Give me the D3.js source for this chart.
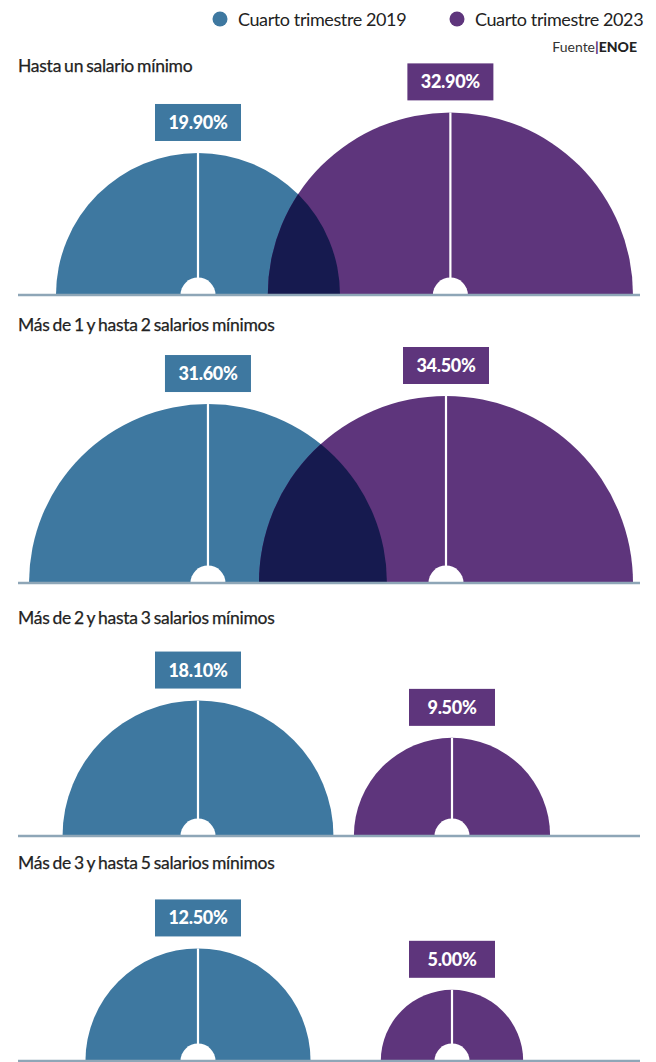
<!DOCTYPE html>
<html>
<head>
<meta charset="utf-8">
<script src="https://cdn.jsdelivr.net/npm/d3@7"></script>
<style>
  body { margin: 0; background: #fff; }
  svg { display: block; font-family: Lato, "Open Sans", sans-serif; }
</style>
</head>
<body>
<div id="chart"></div>
<script>
/***** Data *****/
var categories = [
  "Hasta un salario mínimo",
  "Más de 1 y hasta 2 salarios mínimos",
  "Más de 2 y hasta 3 salarios mínimos",
  "Más de 3 y hasta 5 salarios mínimos"
];
var values2019 = [19.90, 31.60, 18.10, 12.50];
var values2023 = [32.90, 34.50, 9.50, 5.00];
var seriesNames = ["Cuarto trimestre 2019", "Cuarto trimestre 2023"];
var source = "ENOE";

/***** Layout *****/
var width = 656, height = 1062;
var colors = ["#3e78a0", "#5e357c"];
var overlapColor = "#161a4f";
var baselines = [295, 583, 836, 1061];
var titleYs = [72, 331, 624, 869];
var centerX = d3.scalePoint().domain([0, 1]).range([198, 452]);
var minX = 29, maxX = 633;

var r = d3.scaleSqrt().domain([0, 34.5]).range([0, 187]);

var svg = d3.select("#chart").append("svg")
  .attr("width", width)
  .attr("height", height);

var defs = svg.append("defs");

// legend
var legend = svg.append("g");
seriesNames.forEach(function(name, i) {
  var lx = i === 0 ? 220 : 457;
  legend.append("circle")
    .attr("cx", lx).attr("cy", 19).attr("r", 7.5)
    .attr("fill", colors[i]);
  legend.append("text")
    .attr("x", lx + 18).attr("y", 26)
    .attr("font-size", 18)
    .attr("letter-spacing", -0.4)
    .attr("fill", "#222")
    .text(name);
});

var fuente = svg.append("text")
  .attr("x", 637).attr("y", 52)
  .attr("text-anchor", "end")
  .attr("font-size", 14)
  .attr("fill", "#333");
fuente.append("tspan").text("Fuente");
fuente.append("tspan").attr("fill", colors[1]).attr("font-weight", 900).text("|");
fuente.append("tspan").attr("font-weight", 900).attr("fill", "#222").text(source);

var arc = d3.arc()
  .innerRadius(0)
  .startAngle(-Math.PI / 2)
  .endAngle(Math.PI / 2);

categories.forEach(function(cat, p) {
  var by = baselines[p];
  var g = svg.append("g").attr("class", "panel");

  g.append("text")
    .attr("x", 18).attr("y", titleYs[p])
    .attr("font-size", 17.5)
    .attr("letter-spacing", -0.25)
    .attr("word-spacing", -1.2)
    .attr("fill", "#222")
    .attr("stroke", "#222").attr("stroke-width", 0.25)
    .text(cat);

  var vals = [values2019[p], values2023[p]];
  var items = vals.map(function(v, i) {
    var rad = r(v);
    var cx = centerX(i);
    if (cx - rad < minX) cx = minX + rad;
    if (cx + rad > maxX) cx = maxX - rad;
    return {v: v, i: i, rad: rad, cx: cx};
  });

  items.forEach(function(d) {
    g.append("path")
      .attr("transform", "translate(" + d.cx + "," + by + ")")
      .attr("d", arc.outerRadius(d.rad)())
      .attr("fill", colors[d.i]);
  });

  // overlap of the two semicircles
  var clipId = "clip" + p;
  defs.append("clipPath").attr("id", clipId)
    .append("path")
    .attr("transform", "translate(" + items[0].cx + "," + by + ")")
    .attr("d", arc.outerRadius(items[0].rad)());
  g.append("g")
    .attr("clip-path", "url(#" + clipId + ")")
    .append("path")
    .attr("transform", "translate(" + items[1].cx + "," + by + ")")
    .attr("d", arc.outerRadius(items[1].rad)())
    .attr("fill", overlapColor);

  items.forEach(function(d) {
    g.append("line")
      .attr("x1", d.cx).attr("x2", d.cx)
      .attr("y1", by - d.rad).attr("y2", by)
      .attr("stroke", "#fff").attr("stroke-width", 2.2);
    g.append("path")
      .attr("transform", "translate(" + d.cx + "," + by + ")")
      .attr("d", arc.outerRadius(17.5)())
      .attr("fill", "#fff");

    var bw = 86, bh = 37;
    var top = by - d.rad - 12 - bh;
    g.append("rect")
      .attr("x", d.cx - bw / 2).attr("y", top)
      .attr("width", bw).attr("height", bh)
      .attr("fill", colors[d.i]);
    g.append("text")
      .attr("x", d.cx).attr("y", top + bh / 2 + 6.5)
      .attr("text-anchor", "middle")
      .attr("font-size", 18)
      .attr("font-weight", 900)
      .attr("letter-spacing", -0.3)
      .attr("fill", "#fff")
      .text(d3.format(".2f")(d.v) + "%");
  });

  g.append("line")
    .attr("x1", 18).attr("x2", 640)
    .attr("y1", by).attr("y2", by)
    .attr("stroke", "#8ea6b7").attr("stroke-width", 2.5);
});
</script>
</body>
</html>
